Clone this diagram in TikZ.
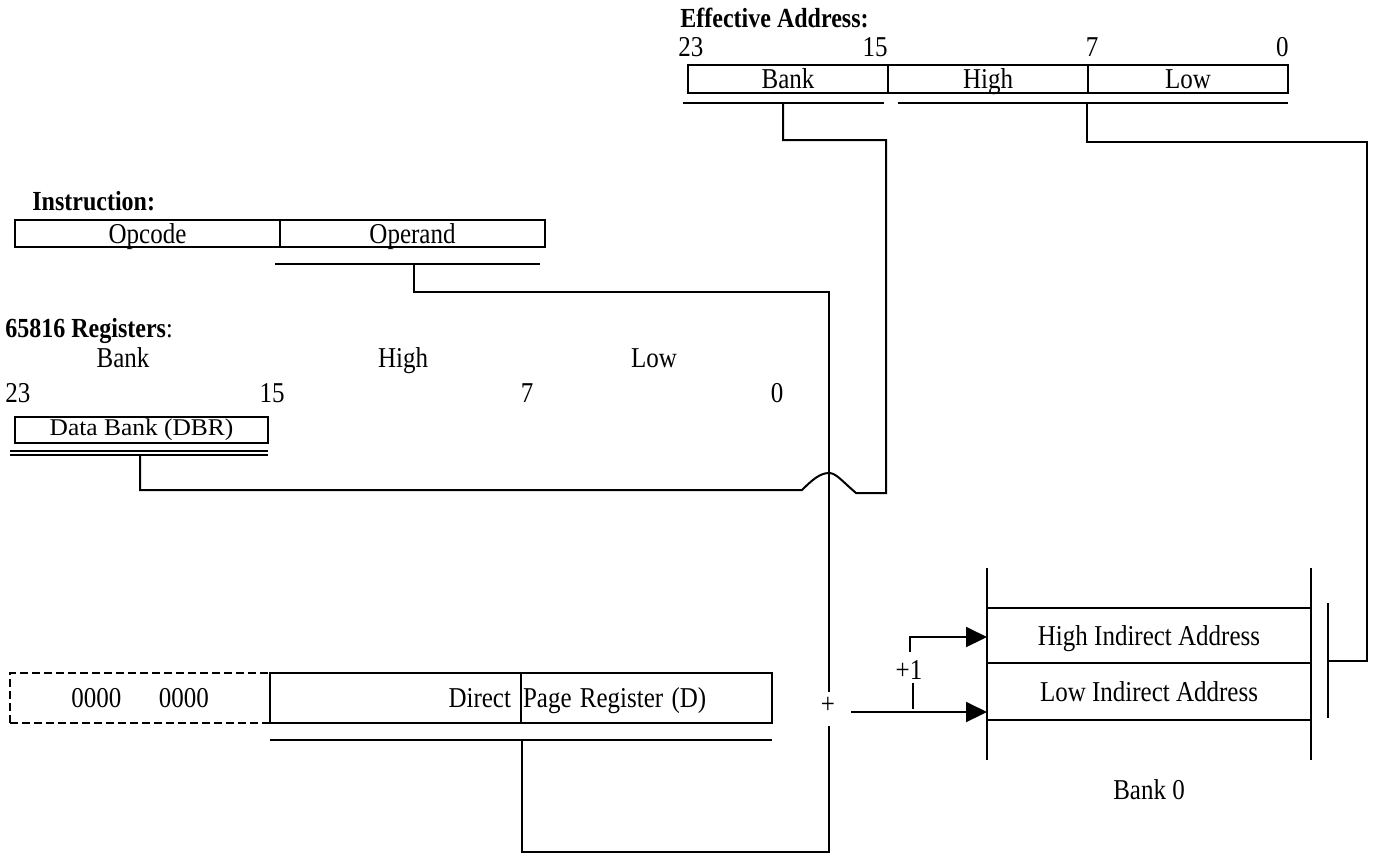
\documentclass[tikz,border=0pt]{standalone}
\usepackage{fontspec}
\usepackage{graphicx}
\setmainfont{Liberation Serif}
\usetikzlibrary{arrows.meta,calc}
\newcommand{\tx}[1]{\scalebox{1}[1.15]{#1}}
\begin{document}
\begin{tikzpicture}[x=0.5pt,y=-0.5pt,
  every node/.style={font=\fontsize{12.5}{14}\selectfont, inner sep=0pt, text height=9.5pt, text depth=0pt},
  cell/.style={draw, line width=0.9pt, inner sep=0pt},
  ln/.style={line width=1pt},
  arr/.style={line width=1pt, -{Triangle[length=10.5pt,width=10pt]}},
  ttl/.style={font=\fontsize{12}{14}\selectfont\bfseries, anchor=west}
]
\useasboundingbox (0,0) rectangle (1374,853);

% ---------- Effective address ----------
\node[ttl] (eaT) at (680,18) {\tx{Effective Address:}};
\node[anchor=west] (ea23) at (678,47) {\tx{23}};
\node[anchor=east] (ea15) at (888,47) {\tx{15}};
\node (ea7) at (1092,47) {\tx{7}};
\node[anchor=east] (ea0) at (1289,47) {\tx{0}};
\node[cell, minimum width=100pt, minimum height=14pt] (eaBank) at (788,79) {\tx{Bank}};
\node[cell, minimum width=100pt, minimum height=14pt] (eaHigh) at (988,79) {\tx{High}};
\node[cell, minimum width=100pt, minimum height=14pt] (eaLow) at (1188,79) {\tx{Low}};
\coordinate (ulA1) at (683,103); \coordinate (ulA2) at (884,103);
\coordinate (ulB1) at (898,103); \coordinate (ulB2) at (1288,103);
\draw[ln] (ulA1) -- (ulA2);
\draw[ln] (ulB1) -- (ulB2);

% ---------- Instruction ----------
\node[ttl] (insT) at (32,201) {\tx{Instruction:}};
\node[cell, minimum width=132.5pt, minimum height=13.5pt] (opc) at (147.5,233.5) {\tx{Opcode}};
\node[cell, minimum width=132.5pt, minimum height=13.5pt] (opr) at (412.5,233.5) {\tx{Operand}};
\coordinate (ulO1) at (275,264); \coordinate (ulO2) at (540,264);
\draw[ln] (ulO1) -- (ulO2);

% ---------- Registers ----------
\node[anchor=west] (regT) at (5,328) {\tx{\fontsize{12}{14}\selectfont\textbf{65816 Registers}:}};
\node (rBank) at (123,358) {\tx{Bank}};
\node (rHigh) at (403,358) {\tx{High}};
\node (rLow) at (654,358) {\tx{Low}};
\node[anchor=west] (r23) at (5,393) {\tx{23}};
\node[anchor=east] (r15) at (285,393) {\tx{15}};
\node (r7) at (527,393) {\tx{7}};
\node (r0) at (777,393) {\tx{0}};
\node[cell, minimum width=126.5pt, minimum height=13pt, text height=8.3pt, text depth=2.6pt] (dbr) at (141.5,430) {\scalebox{1.06}[1]{\fontsize{12}{14}\selectfont Data Bank (DBR)}};
\coordinate (ulD1) at (10,451); \coordinate (ulD2) at (268,451);
\coordinate (ulD3) at (10,455); \coordinate (ulD4) at (268,455);
\draw[ln] (ulD1) -- (ulD2);
\draw[ln] (ulD3) -- (ulD4);

% ---------- Direct page ----------
\node[draw, line width=0.8pt, dash pattern=on 4pt off 2pt, minimum width=130pt, minimum height=25pt] (zero) at (140,698) {\tx{0000\hspace{1.5em}0000}};
\node[cell, minimum width=125.5pt, minimum height=25pt, text width=115.5pt, align=right, inner xsep=5pt] (dpL) at (395.5,698) {\tx{Direct}};
\node[cell, minimum width=125.5pt, minimum height=25pt, text width=123.5pt, align=left, inner xsep=1pt] (dpR) at (646.5,698) {\tx{Page Register (D)}};
\coordinate (ulP1) at (270,740); \coordinate (ulP2) at (772,740);
\draw[ln] (ulP1) -- (ulP2);

% ---------- Adder ----------
\node (plus) at (828,704) {\tx{+}};
\coordinate (addTop) at (829,692);
\coordinate (addBot) at (829,726);
\coordinate (addOut) at (851,712);

% ---------- Memory (bank 0) ----------
\node[minimum width=162pt, minimum height=27.5pt] (hiRow) at (1149,635.5) {\tx{High Indirect Address}};
\node[minimum width=162pt, minimum height=28.5pt] (loRow) at (1149,691.5) {\tx{Low Indirect Address}};
\node (bank0) at (1149,790) {\tx{Bank 0}};
\coordinate (mTL) at (987,568); \coordinate (mBL) at (987,760);
\coordinate (mTR) at (1311,568); \coordinate (mBR) at (1311,760);
\draw[ln] (mTL) -- (mBL);
\draw[ln] (mTR) -- (mBR);
\draw[ln] (hiRow.north west) -- (hiRow.north east);
\draw[ln] (hiRow.south west) -- (hiRow.south east);
\draw[ln] (loRow.south west) -- (loRow.south east);
\coordinate (barT) at (1328,603); \coordinate (barB) at (1328,718);
\draw[ln] (barT) -- (barB);

% ---------- connectors ----------
% Bank of effective address <- DBR
\coordinate (bk0) at (783,103);
\coordinate (bk1) at (886,140);
\coordinate (bk2) at (886,493);
\coordinate (hR) at (856,493);
\coordinate (hP) at (829,473);
\coordinate (hL) at (802,490);
\coordinate (db1) at (140,490);
\coordinate (db0) at (140,455);
\draw[ln] (bk0) |- (bk1) -- (bk2) -- (hR)
  .. controls (842,481) and (836,473) .. (hP)
  .. controls (820,473) and (812,480) .. (hL) -- (db1) -- (db0);

% Low/High of effective address <- memory
\coordinate (lw0) at (1087,103);
\coordinate (lw1) at (1367,142);
\coordinate (lw2) at (1367,661);
\coordinate (lw3) at (1328,661);
\draw[ln] (lw0) |- (lw1) -- (lw2) -- (lw3);

% Operand -> adder
\coordinate (op0) at (414,264);
\coordinate (op1) at (829,292);
\draw[ln] (op0) |- (op1) -- (addTop);

% Direct page -> adder
\coordinate (dp0) at (522,740);
\coordinate (dp1) at (522,852);
\coordinate (dp2) at (829,852);
\draw[ln] (dp0) -- (dp1) -- (dp2) -- (addBot);

% adder -> memory
\coordinate (loIn) at (987,712);
\draw[arr] (addOut) -- (loIn);
\coordinate (upS) at (910,652);
\coordinate (hiIn) at (987,637);
\draw[arr] (upS) |- (hiIn);
\coordinate (tk0) at (913,683); \coordinate (tk1) at (913,709);
\draw[ln] (tk0) -- (tk1);
\node (plusone) at (909,670) {\tx{+1}};
\end{tikzpicture}
\end{document}
